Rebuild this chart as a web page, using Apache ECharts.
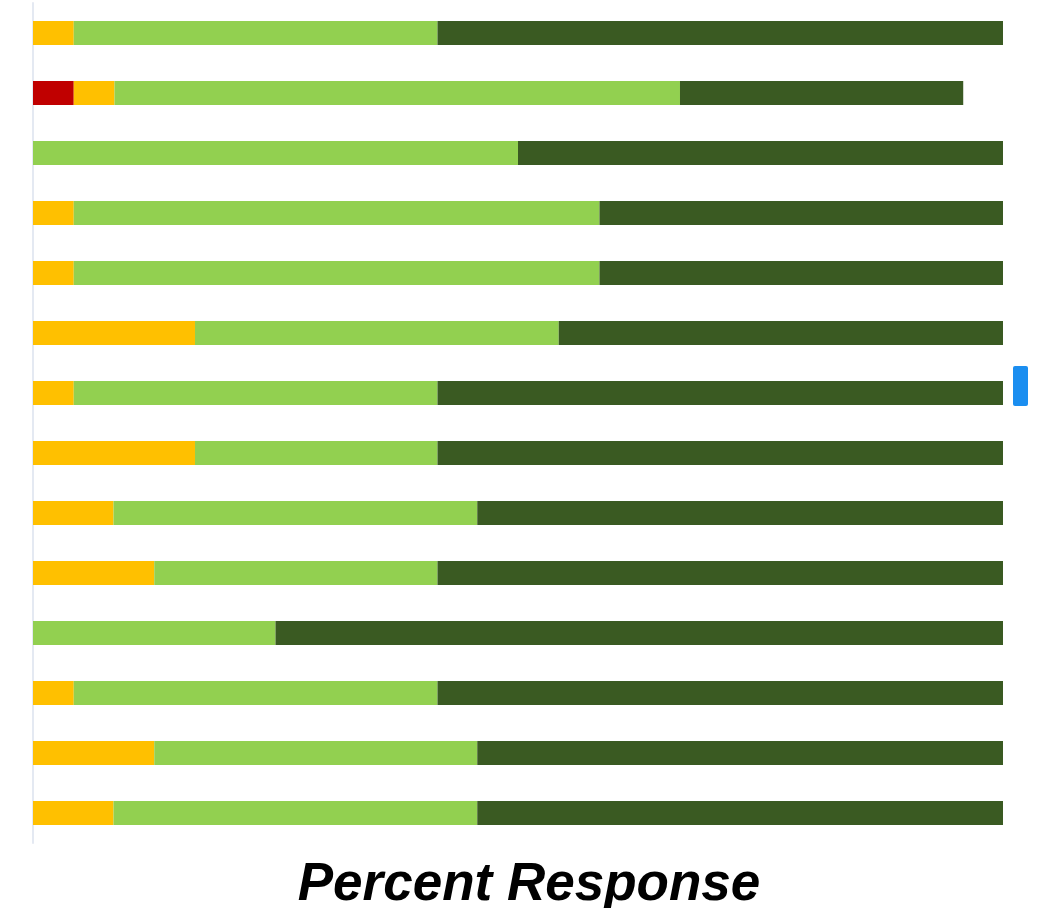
<!DOCTYPE html>
<html>
<head>
<meta charset="utf-8">
<style>
  html, body { margin: 0; padding: 0; background: #ffffff; }
  #chart { width: 1038px; height: 908px; }
</style>
<script src="https://cdn.jsdelivr.net/npm/echarts@6/dist/echarts.min.js"></script>
</head>
<body>
<div id="chart"></div>
<script>
// Survey items, top to bottom
const items = ['Item 1', 'Item 2', 'Item 3', 'Item 4', 'Item 5', 'Item 6', 'Item 7',
               'Item 8', 'Item 9', 'Item 10', 'Item 11', 'Item 12', 'Item 13', 'Item 14'];

// Percent of respondents per response level (24 respondents per item)
const stronglyDisagree = [0, 4.2, 0, 0, 0, 0, 0, 0, 0, 0, 0, 0, 0, 0];
const disagree         = [4.2, 4.2, 0, 4.2, 4.2, 16.7, 4.2, 16.7, 8.3, 12.5, 0, 4.2, 12.5, 8.3];
const agree            = [37.5, 58.3, 50, 54.2, 54.2, 37.5, 37.5, 25, 37.5, 29.2, 25, 37.5, 33.3, 37.5];
const stronglyAgree    = [58.3, 29.2, 50, 41.7, 41.7, 45.8, 58.3, 58.3, 54.2, 58.3, 75, 58.3, 54.2, 54.2];

const axisTitle = 'Percent Response';

const levels = [
  { name: 'Strongly Disagree', data: stronglyDisagree, color: '#c00000' },
  { name: 'Disagree',          data: disagree,         color: '#ffc000' },
  { name: 'Agree',             data: agree,            color: '#92d050' },
  { name: 'Strongly Agree',    data: stronglyAgree,    color: '#3a5a22' }
];

const chart = echarts.init(document.getElementById('chart'), null, { renderer: 'canvas' });

chart.setOption({
  animation: false,
  backgroundColor: '#ffffff',
  grid: { left: 33, right: 35, top: 3, height: 840, containLabel: false, outerBoundsMode: 'none' },
  xAxis: {
    type: 'value',
    min: 0,
    max: 100,
    axisLine: { show: false },
    axisTick: { show: false },
    axisLabel: { show: false },
    splitLine: { show: false },
    name: axisTitle,
    nameLocation: 'middle',
    nameGap: 16,
    nameTextStyle: {
      fontFamily: 'Liberation Sans, Arial, sans-serif',
      fontSize: 53,
      fontWeight: 'bold',
      fontStyle: 'italic',
      color: '#000000',
      padding: [0, 0, 0, 22]
    }
  },
  yAxis: {
    type: 'category',
    data: items,
    inverse: true,
    axisLine: { show: true, lineStyle: { color: '#e4e9f2', width: 2 } },
    axisTick: { show: false },
    axisLabel: { show: false },
    splitLine: { show: false }
  },
  series: levels.map(l => ({
    name: l.name,
    type: 'bar',
    stack: 'total',
    barWidth: 24,
    data: l.data,
    itemStyle: { color: l.color },
    emphasis: { disabled: true }
  })),
  graphic: [{
    type: 'rect',
    left: 1013,
    top: 366,
    shape: { width: 15, height: 40, r: 2 },
    style: { fill: '#1b8ef0' }
  }]
});
</script>
</body>
</html>
